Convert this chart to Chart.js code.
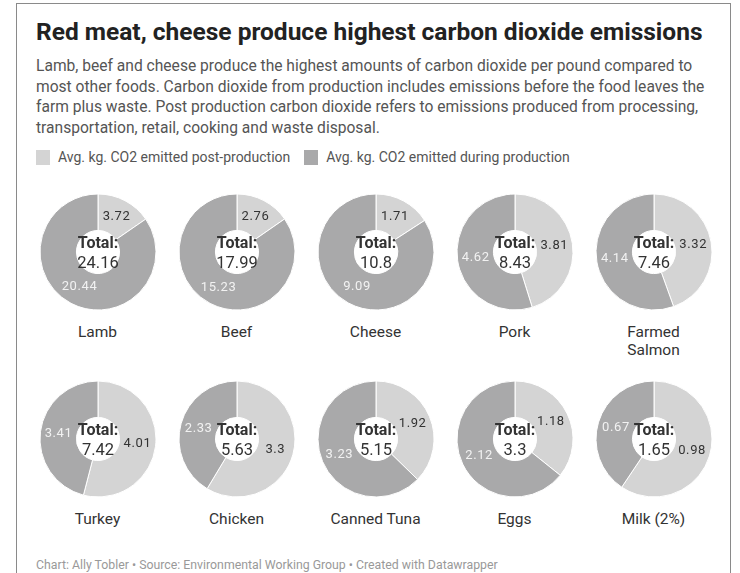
<!DOCTYPE html>
<html lang="en">
<head>
    <meta charset="UTF-8">
    <title>Red meat, cheese produce highest carbon dioxide emissions</title>
    <script src="https://cdn.jsdelivr.net/npm/chart.js"></script>
    <style>
        body {
            margin: 0;
            width: 740px;
            height: 573px;
            overflow: hidden;
            background: #fff;
            font-family: 'Roboto', sans-serif;
            color: #333;
        }

        .frame {
            position: absolute;
            left: 16px;
            top: 3px;
            width: 713px;
            height: 600px;
            border: 1px solid #8a8a8a;
            border-bottom: none;
        }

        h1 {
            position: absolute;
            left: 36px;
            top: 18px;
            margin: 0;
            font-size: 24.5px;
            line-height: 28px;
            font-weight: 700;
            color: #222;
            white-space: nowrap;
        }

        .desc {
            position: absolute;
            left: 36px;
            top: 56px;
            margin: 0;
            font-size: 15.6px;
            line-height: 20.5px;
            color: #555;
            white-space: nowrap;
        }

        .legend {
            position: absolute;
            left: 36px;
            top: 149px;
            font-size: 14px;
            color: #555;
            display: flex;
            align-items: center;
            white-space: nowrap;
        }

        .legend .swatch {
            display: inline-block;
            width: 14px;
            height: 15px;
            margin-right: 8px;
        }

        .legend .item {
            display: flex;
            align-items: center;
            margin-right: 14px;
        }

        .cell {
            position: absolute;
            width: 139px;
            text-align: center;
        }

        .cell canvas {
            display: block;
            margin: 0 auto;
        }

        .cell .name {
            font-size: 15.5px;
            line-height: 18px;
            color: #333;
            margin-top: 6px;
        }

        footer {
            position: absolute;
            left: 36px;
            top: 558px;
            font-size: 12.3px;
            color: #999;
            white-space: nowrap;
        }
    </style>
</head>
<body>
    <div class="frame"></div>
    <h1>Red meat, cheese produce highest carbon dioxide emissions</h1>
    <p class="desc">Lamb, beef and cheese produce the highest amounts of carbon dioxide per pound compared to<br>most other foods. Carbon dioxide from production includes emissions before the food leaves the<br>farm plus waste. Post production carbon dioxide refers to emissions produced from processing,<br>transportation, retail, cooking and waste disposal.</p>

    <div class="legend">
        <span class="item"><span class="swatch" id="swPost"></span><span id="lgPost"></span></span>
        <span class="item"><span class="swatch" id="swProd"></span><span id="lgProd"></span></span>
    </div>

    <div id="grid"></div>

    <footer>Chart: Ally Tobler • Source: Environmental Working Group • Created with Datawrapper</footer>

    <script>
        // data
        const foods = ['Lamb', 'Beef', 'Cheese', 'Pork', 'Farmed Salmon',
                       'Turkey', 'Chicken', 'Canned Tuna', 'Eggs', 'Milk (2%)'];
        const postProduction = [3.72, 2.76, 1.71, 3.81, 3.32, 4.01, 3.3, 1.92, 1.18, 0.98];
        const production = [20.44, 15.23, 9.09, 4.62, 4.14, 3.41, 2.33, 3.23, 2.12, 0.67];
        const totals = [24.16, 17.99, 10.8, 8.43, 7.46, 7.42, 5.63, 5.15, 3.3, 1.65];
        const seriesNames = ['Avg. kg. CO2 emitted post-production', 'Avg. kg. CO2 emitted during production'];

        const lightGray = '#d4d4d4';
        const darkGray = '#a9a9aa';

        document.getElementById('swPost').style.background = lightGray;
        document.getElementById('swProd').style.background = darkGray;
        document.getElementById('lgPost').textContent = seriesNames[0];
        document.getElementById('lgProd').textContent = seriesNames[1];

        // labels inside the ring + the total in the hole
        const donutText = {
            id: 'donutText',
            afterDatasetsDraw(chart, args, opts) {
                const ctx = chart.ctx;
                const meta = chart.getDatasetMeta(0);
                const values = chart.data.datasets[0].data;
                ctx.save();
                ctx.textAlign = 'center';
                ctx.textBaseline = 'middle';
                ctx.font = '13px Roboto';
                ctx.letterSpacing = '0.6px';
                meta.data.forEach((arc, i) => {
                    const p = arc.tooltipPosition();
                    ctx.fillStyle = i === 0 ? '#333' : '#f2f2f2';
                    ctx.fillText(values[i], p.x, p.y);
                });
                ctx.letterSpacing = '0px';
                const cx = (chart.chartArea.left + chart.chartArea.right) / 2;
                const cy = (chart.chartArea.top + chart.chartArea.bottom) / 2;
                ctx.textBaseline = 'alphabetic';
                ctx.fillStyle = '#333';
                ctx.font = 'bold 16px Roboto';
                ctx.fillText('Total:', cx, cy - 4);
                ctx.font = '16.5px Roboto';
                ctx.fillText(opts.total, cx, cy + 16);
                ctx.restore();
            }
        };

        const grid = document.getElementById('grid');
        foods.forEach((food, i) => {
            const col = i % 5;
            const row = Math.floor(i / 5);
            const cell = document.createElement('div');
            cell.className = 'cell';
            cell.style.left = (28 + col * 139) + 'px';
            cell.style.top = (187 + row * 187) + 'px';

            const canvas = document.createElement('canvas');
            canvas.width = 130;
            canvas.height = 130;
            canvas.style.width = '130px';
            canvas.style.height = '130px';
            cell.appendChild(canvas);

            const name = document.createElement('div');
            name.className = 'name';
            name.innerHTML = food.replace('Farmed ', 'Farmed<br>');
            cell.appendChild(name);
            grid.appendChild(cell);

            new Chart(canvas.getContext('2d'), {
                type: 'doughnut',
                data: {
                    labels: seriesNames,
                    datasets: [{
                        data: [postProduction[i], production[i]],
                        backgroundColor: [lightGray, darkGray],
                        borderColor: '#fff',
                        borderWidth: 1
                    }]
                },
                options: {
                    responsive: false,
                    animation: false,
                    events: [],
                    radius: 58,
                    cutout: 24,
                    layout: { padding: 0 },
                    plugins: {
                        legend: { display: false },
                        tooltip: { enabled: false },
                        donutText: { total: totals[i] }
                    }
                },
                plugins: [donutText]
            });
        });
    </script>
</body>
</html>
